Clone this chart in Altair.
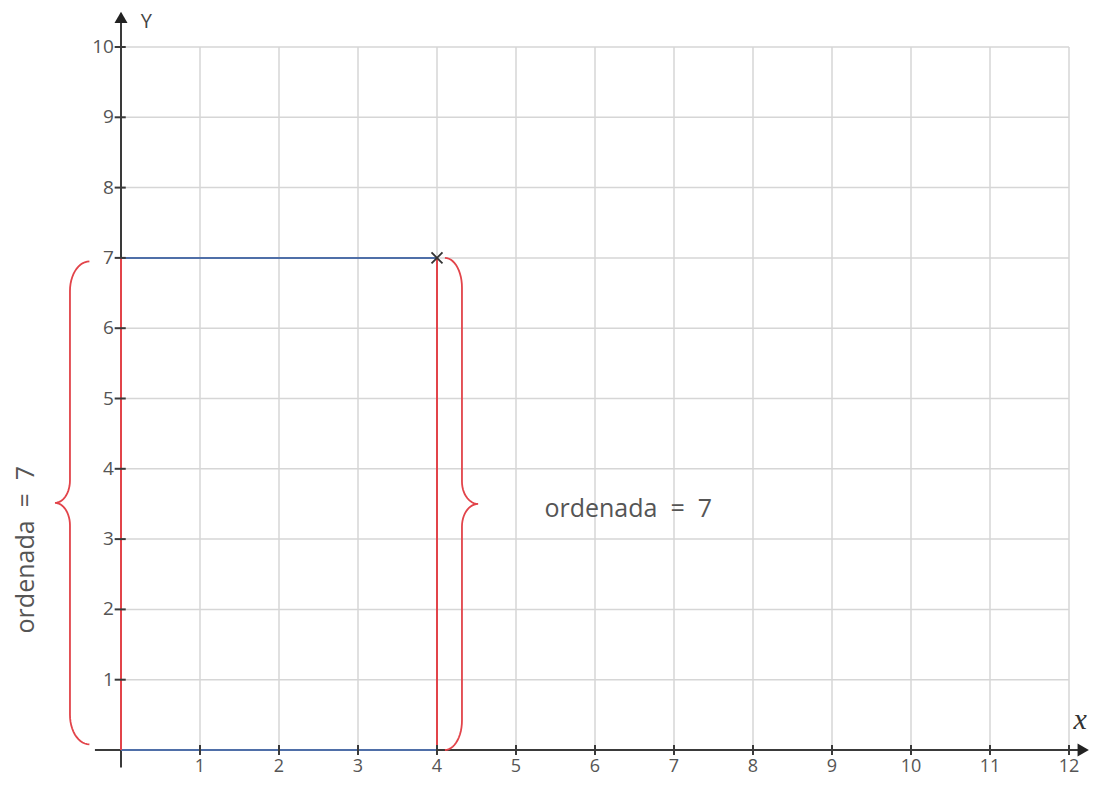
import altair as alt
import pandas as pd
import numpy as np

# ---- data ----
x_ticks = list(range(1, 13))
y_ticks = list(range(1, 11))
point_x = [4]
point_y = [7]
label_text = "ordenada\u00a0\u00a0=\u00a0\u00a07"

# plot geometry (data units): origin at pixel (121, 750), 79 px per x unit, 70.3 px per y unit
W, H = 1081, 771
XMIN = (8 - 121) / 79
XMAX = XMIN + W / 79
YMAX = (750 - 8) / 70.3
YMIN = YMAX - H / 70.3

xs = alt.Scale(domain=[XMIN, XMAX], nice=False, zero=False)
ys = alt.Scale(domain=[YMIN, YMAX], nice=False, zero=False)

GRID = "#d6d6d6"
AX = "#3a3a3a"
BLUE = "#4f6fa8"
RED = "#e2444a"
TXT = "#555555"


def X(field="x", **kw):
    return alt.X(field, type="quantitative", scale=xs, axis=None, **kw)


def Y(field="y", **kw):
    return alt.Y(field, type="quantitative", scale=ys, axis=None, **kw)


# gridlines
vgrid = pd.DataFrame({"x": x_ticks, "y": 0, "y2": 10})
hgrid = pd.DataFrame({"y": y_ticks, "x": 0, "x2": 12})
g1 = alt.Chart(vgrid).mark_rule(color=GRID, strokeWidth=1.5).encode(x=X(), y=Y(), y2="y2")
g2 = alt.Chart(hgrid).mark_rule(color=GRID, strokeWidth=1.5).encode(y=Y(), x=X(), x2="x2")

# axes lines
xaxis = alt.Chart(pd.DataFrame({"x": [-0.33], "x2": [12.15], "y": [0]})).mark_rule(
    color=AX, strokeWidth=2).encode(x=X(), x2="x2", y=Y())
yaxis = alt.Chart(pd.DataFrame({"x": [0], "y": [-0.25], "y2": [10.38]})).mark_rule(
    color=AX, strokeWidth=2).encode(x=X(), y=Y(), y2="y2")

# ticks
xt = alt.Chart(pd.DataFrame({"x": x_ticks, "y": -0.07, "y2": 0.07})).mark_rule(
    color=AX, strokeWidth=2).encode(x=X(), y=Y(), y2="y2")
yt = alt.Chart(pd.DataFrame({"y": y_ticks, "x": -0.08, "x2": 0.06})).mark_rule(
    color=AX, strokeWidth=2).encode(y=Y(), x=X(), x2="x2")

# arrows
arr_up = alt.Chart(pd.DataFrame({"x": [0], "y": [10.42]})).mark_point(
    shape="triangle-up", filled=True, color="#222", size=170, opacity=1).encode(x=X(), y=Y())
arr_right = alt.Chart(pd.DataFrame({"x": [12.18], "y": [0]})).mark_point(
    shape="triangle-right", filled=True, color="#222", size=170, opacity=1).encode(x=X(), y=Y())

# tick labels
xl = alt.Chart(pd.DataFrame({"x": x_ticks, "y": -0.24, "t": [str(v) for v in x_ticks]})).mark_text(
    font="Open Sans", fontSize=18, color=TXT, baseline="middle", align="center").encode(
    x=X(), y=Y(), text="t:N")
yl = alt.Chart(pd.DataFrame({"y": y_ticks, "x": -0.09, "t": [str(v) for v in y_ticks]})).mark_text(
    font="Open Sans", fontSize=19, color=TXT, baseline="middle", align="right").encode(
    x=X(), y=Y(), text="t:N")

# axis names
ylab = alt.Chart(pd.DataFrame({"x": [0.32], "y": [10.36], "t": ["Y"]})).mark_text(
    font="Open Sans", fontSize=20, color="#444", baseline="middle", align="center").encode(
    x=X(), y=Y(), text="t:N")
xlab = alt.Chart(pd.DataFrame({"x": [12.14], "y": [0.42], "t": ["x"]})).mark_text(
    font="Liberation Serif", fontStyle="italic", fontSize=30, color="#333",
    baseline="middle", align="center").encode(x=X(), y=Y(), text="t:N")

# blue segments
blue = pd.DataFrame({"x": [0, 0], "x2": [4, 4], "y": [7, 0]})
bl = alt.Chart(blue).mark_rule(color=BLUE, strokeWidth=2).encode(x=X(), x2="x2", y=Y())

# red verticals
red = pd.DataFrame({"x": [0, 4], "y": [0, 0], "y2": [7, 7]})
rl = alt.Chart(red).mark_rule(color=RED, strokeWidth=2).encode(x=X(), y=Y(), y2="y2")

# cross at point
cross = alt.Chart(pd.DataFrame({"x": point_x, "y": point_y})).mark_point(
    shape="M-1,-1L1,1M-1,1L1,-1", color="#333", size=120, strokeWidth=1.8, opacity=1).encode(
    x=X(), y=Y())


# braces
def brace(name, x_spine, x_end, x_tip, y0, y1, r=0.42, rt=0.32, n=14):
    ym = (y0 + y1) / 2
    pts = []
    th = np.linspace(0, np.pi / 2, n)
    for t in th:  # bottom curl
        pts.append((x_end + (x_spine - x_end) * np.sin(t), y0 + r - r * np.cos(t)))
    for t in th:  # lower tip half
        pts.append((x_tip + (x_spine - x_tip) * np.cos(t), ym - rt + rt * np.sin(t)))
    for t in th[::-1]:  # upper tip half
        pts.append((x_tip + (x_spine - x_tip) * np.cos(t), ym + rt - rt * np.sin(t)))
    for t in th[::-1]:  # top curl
        pts.append((x_end + (x_spine - x_end) * np.sin(t), y1 - r + r * np.cos(t)))
    return pd.DataFrame({"x": [p[0] for p in pts], "y": [p[1] for p in pts],
                         "o": list(range(len(pts))), "b": name})


braces = pd.concat([
    brace("L", -0.646, -0.40, -0.835, 0.08, 6.95),
    brace("R", 4.316, 4.10, 4.52, 0.0, 7.0),
])
br = alt.Chart(braces).mark_line(color=RED, strokeWidth=1.8).encode(
    x=X(), y=Y(), order="o:Q", detail="b:N")

# annotations
t_right = alt.Chart(pd.DataFrame({"x": [6.42], "y": [3.43], "t": [label_text]})).mark_text(
    font="Open Sans", fontSize=25, color=TXT, baseline="middle", align="center").encode(
    x=X(), y=Y(), text="t:N")
t_left = alt.Chart(pd.DataFrame({"x": [-1.2], "y": [2.85], "t": [label_text]})).mark_text(
    font="Open Sans", fontSize=25, color=TXT, baseline="middle", align="center", angle=270).encode(
    x=X(), y=Y(), text="t:N")

chart = alt.layer(
    g1, g2, xaxis, yaxis, bl, rl, xt, yt, arr_up, arr_right, xl, yl, ylab, xlab,
    cross, br, t_right, t_left
).properties(
    width=W, height=H, padding=0, autosize=alt.AutoSizeParams(type="none")
).configure_view(stroke=None)

chart.save("out.html", embed_options={"renderer": "svg", "actions": False})
